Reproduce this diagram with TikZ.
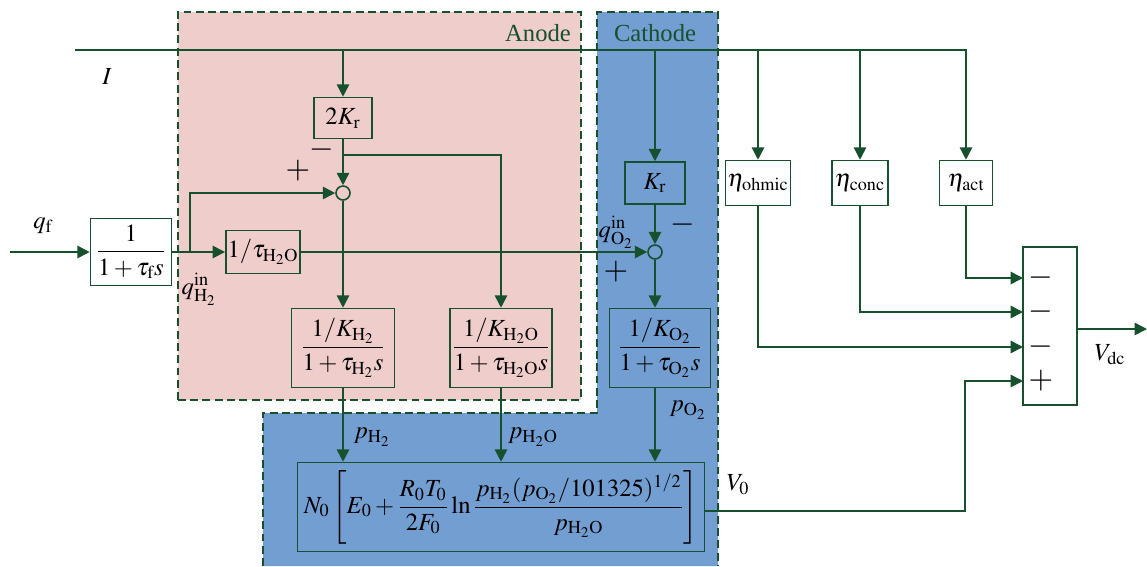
\documentclass[tikz,border=0pt]{standalone}
\usepackage{amsmath}
\usepackage{mathptmx}
\usepackage{fontspec}
\setmainfont{Liberation Serif}
\usepackage{xcolor}
\usetikzlibrary{arrows.meta}

\definecolor{linea}{RGB}{22,80,45}
\definecolor{anodo}{RGB}{239,205,203}
\definecolor{catodo}{RGB}{114,158,210}

\begin{document}
\begin{tikzpicture}[x=0.02cm,y=-0.02cm,
	>={Triangle[length=7pt,width=7pt]},
	conn/.style={draw=linea,line width=0.9pt},
	bloque/.style={draw=linea,line width=0.9pt,inner sep=1pt,font=\fontsize{14}{17}\selectfont},
	suma/.style={circle,draw=linea,line width=0.9pt,minimum size=0.28cm,inner sep=0pt},
	etiq/.style={font=\fontsize{14}{17}\selectfont},
	signo/.style={font=\fontsize{18}{20}\selectfont},
	region/.style={draw=linea,line width=0.9pt,dash pattern=on 4.5pt off 2.5pt}]
	
	\useasboundingbox (0,0) rectangle (1147,566);
	
	% Regiones
	\fill[anodo] (178,12) rectangle (581,400);
	\fill[catodo] (597,12) -- (718,12) -- (718,566) -- (263,566) -- (263,413) -- (597,413) -- cycle;
	\draw[region] (178,400) -- (178,12) -- (581,12) -- (581,400) -- cycle;
	\draw[region] (263,566) -- (263,413) -- (597,413) -- (597,12) -- (718,12) -- (718,566);
	\node[etiq,text=linea] (tAnodo) at (538,33) {Anode};
	\node[etiq,text=linea] (tCatodo) at (655,33) {Cathode};
	
	% Bloques
	\node[bloque,fill=white,minimum width=1.62cm,minimum height=1.34cm] (qf) at (131,252) {$\dfrac{1}{1+\tau_{\mathrm{f}}s}$};
	\node[bloque,minimum width=1.4cm,minimum height=0.86cm] (tw) at (263,252) {$1/\tau_{\mathrm{H_2O}}$};
	\node[bloque,minimum width=1.16cm,minimum height=0.82cm] (kr2) at (343,118) {$2K_{\mathrm{r}}$};
	\node[suma] (sa) at (343,193) {};
	\node[bloque,minimum width=2.06cm,minimum height=1.58cm] (kh) at (343,348) {$\dfrac{1/K_{\mathrm{H_2}}}{1+\tau_{\mathrm{H_2}}s}$};
	\node[bloque,minimum width=1.86cm,minimum height=1.58cm] (khw) at (501,348) {$\dfrac{1/K_{\mathrm{H_2O}}}{1+\tau_{\mathrm{H_2O}}s}$};
	\node[bloque,minimum width=1.2cm,minimum height=0.84cm] (kr) at (655,183) {$K_{\mathrm{r}}$};
	\node[suma] (sc) at (655,252) {};
	\node[bloque,minimum width=2.02cm,minimum height=1.58cm] (ko) at (660,348) {$\dfrac{1/K_{\mathrm{O_2}}}{1+\tau_{\mathrm{O_2}}s}$};
	\node[bloque,minimum width=8.14cm,minimum height=1.78cm] (ne) at (501,507)
	{$N_0\left[E_0+\dfrac{R_0T_0}{2F_0}\ln\dfrac{p_{\mathrm{H_2}}(p_{\mathrm{O_2}}/101325)^{1/2}}{p_{\mathrm{H_2O}}}\right]$};
	\node[bloque,fill=white,minimum width=1.1cm,minimum height=0.9cm] (eo) at (758,183) {$\eta_{\mathrm{ohmic}}$};
	\node[bloque,fill=white,minimum width=1.12cm,minimum height=0.9cm] (ec) at (860,183) {$\eta_{\mathrm{conc}}$};
	\node[bloque,fill=white,minimum width=1.06cm,minimum height=0.9cm] (ea) at (966,183) {$\eta_{\mathrm{act}}$};
	\node[bloque,fill=white,minimum width=1.08cm,minimum height=3.16cm] (sv) at (1050,326) {};
	
	% Corriente I
	\coordinate (iI) at (75,50);
	\draw[conn,->] (iI) -| (ea);
	\foreach \n in {kr2,kr,eo,ec}
		\draw[conn,->] (\n |- iI) -- (\n);
	
	% Anodo
	\coordinate (qin) at (10,252);
	\coordinate (bQ) at (190,252);
	\coordinate (bA) at (343,155);
	\draw[conn,->] (qin) -- (qf);
	\draw[conn,->] (qf) -- (tw);
	\draw[conn,->] (bQ) |- (sa);
	\draw[conn,->] (kr2) -- (sa);
	\draw[conn,->] (bA) -| (khw);
	\draw[conn,->] (sa) -- (kh);
	
	% Catodo
	\draw[conn,->] (tw) -- (sc);
	\draw[conn,->] (kr) -- (sc);
	\draw[conn,->] (sc) -- (sc |- ko.north);
	
	% Presiones
	\draw[conn,->] (kh) -- (kh |- ne.north);
	\draw[conn,->] (khw) -- (khw |- ne.north);
	\draw[conn,->] (sc |- ko.south) -- (sc |- ne.north);
	
	% Sumador de tension
	\foreach \y [count=\i] in {278,312,347,381}
		\coordinate (e\i) at (1023,\y);
	\draw[conn,->] (ea) |- (e1);
	\draw[conn,->] (ec) |- (e2);
	\draw[conn,->] (eo) |- (e3);
	\coordinate (v0) at (965,511);
	\draw[conn,->] (ne.east |- v0) -- (v0) |- (e4);
	\coordinate (sal) at (1147,329);
	\draw[conn,->] (sv.east |- sal) -- (sal);
	\foreach \y/\s in {278/-,312/-,347/-,381/+}
		\node[signo] (s\y) at (1041,\y) {$\s$};
	
	% Etiquetas
	\node[etiq] (lI) at (107,77) {$I$};
	\node[etiq] (lqf) at (43,226) {$q_{\mathrm{f}}$};
	\node[etiq] (lqh) at (199,289) {$q_{\mathrm{H_2}}^{\mathrm{in}}$};
	\node[etiq] (lqo) at (616,232) {$q_{\mathrm{O_2}}^{\mathrm{in}}$};
	\node[etiq] (lph) at (372,437) {$p_{\mathrm{H_2}}$};
	\node[etiq] (lpw) at (533,437) {$p_{\mathrm{H_2O}}$};
	\node[etiq] (lpo) at (688,410) {$p_{\mathrm{O_2}}$};
	\node[etiq] (lv0) at (738,485) {$V_0$};
	\node[etiq] (lvdc) at (1110,355) {$V_{\mathrm{dc}}$};
	\node[signo] (ma) at (322,150) {$-$};
	\node[signo] (pa) at (298,171) {$+$};
	\node[signo] (mc) at (683,225) {$-$};
	\node[signo] (pc) at (616,272) {$+$};
	
\end{tikzpicture}
\end{document}
